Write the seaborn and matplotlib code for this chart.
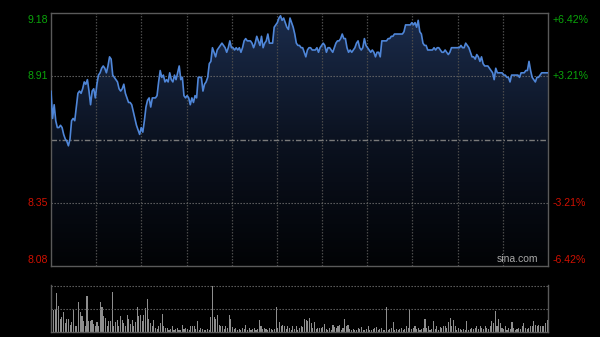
import numpy as np
import pandas as pd
import matplotlib
matplotlib.use("Agg")
import matplotlib.pyplot as plt
import seaborn as sns
from matplotlib.colors import LinearSegmentedColormap

# ---------------- data ----------------
prev_close = 8.627
left_labels = ["9.18", "8.91", "8.35", "8.08"]
right_labels = ["+6.42%", "+3.21%", "-3.21%", "-6.42%"]
label_pcts = [0.0642, 0.0321, -0.0321, -0.0642]

prices = [
    8.84, 8.72, 8.78, 8.71, 8.68, 8.68, 8.69, 8.68, 8.65, 8.63, 8.62, 8.60, 8.63, 8.71, 8.72, 8.71, 8.77, 8.83, 8.84, 8.83,
    8.85, 8.88, 8.87, 8.89, 8.84, 8.78, 8.84, 8.85, 8.81, 8.87, 8.91, 8.92, 8.94, 8.95, 8.94, 8.92, 8.95, 8.99, 8.98, 8.91,
    8.90, 8.89, 8.88, 8.85, 8.84, 8.85, 8.87, 8.83, 8.81, 8.79, 8.79, 8.78, 8.75, 8.72, 8.69, 8.67, 8.65, 8.68, 8.66, 8.71, 8.77,
    8.80, 8.81, 8.77, 8.81, 8.81, 8.81, 8.82, 8.88, 8.93, 8.90, 8.91, 8.88, 8.89, 8.88, 8.92, 8.89, 8.88, 8.91, 8.89, 8.92,
    8.95, 8.89, 8.90, 8.82, 8.81, 8.82, 8.81, 8.78, 8.81, 8.79, 8.82, 8.81, 8.90, 8.90, 8.90, 8.84, 8.87, 8.88, 8.90, 8.96,
    8.97, 9.03, 9.01, 8.99, 9.02, 9.03, 9.04, 9.05, 9.04, 9.03, 9.01, 9.03, 9.06, 9.03, 9.03, 9.02, 9.03, 9.02, 9.03, 9.01,
    9.03, 9.06, 9.07,
    9.06, 9.06, 9.06, 9.05, 9.03, 9.05, 9.08, 9.06, 9.04, 9.08, 9.03, 9.05, 9.06, 9.09, 9.05, 9.05, 9.05, 9.12, 9.13, 9.14,
    9.16, 9.17, 9.15, 9.16, 9.14, 9.12, 9.11, 9.16, 9.14, 9.12, 9.09, 9.05, 9.04, 9.04, 9.03, 9.03, 9.01, 8.99, 9.02, 9.03,
    9.03, 9.02, 9.02, 9.02, 9.03, 9.01, 9.03, 9.04, 9.05, 9.04, 9.01, 9.03, 9.03, 9.02, 9.01, 9.03, 9.05, 9.06, 9.06, 9.07,
    9.09, 9.07,
    9.07, 9.03, 9.01, 9.02, 9.01, 9.02, 9.03, 9.05, 9.06, 9.03, 9.02, 9.03, 9.07, 9.04, 9.03, 9.02, 9.01, 9.02, 9.01, 8.99,
    9.01, 9.01, 8.99, 9.06, 9.06, 9.06, 9.06, 9.07, 9.07, 9.08, 9.08, 9.09, 9.09, 9.09, 9.09, 9.09, 9.09, 9.10, 9.13, 9.13,
    9.13, 9.13, 9.14, 9.13, 9.14, 9.12, 9.15, 9.10, 9.09, 9.05, 9.04, 9.04, 9.02, 9.02, 9.02, 9.02, 9.03, 9.02, 9.03, 9.03,
    9.02, 9.01, 9.01, 9.02, 9.01,
    9.00, 9.01, 9.03, 9.03, 9.03, 9.03, 9.03, 9.03, 9.04, 9.03, 9.03, 9.05, 9.04, 9.03, 9.01, 8.99, 8.99, 8.98, 9.00, 8.99,
    8.97, 8.99, 8.96, 8.95, 8.95, 8.95, 8.94, 8.93, 8.92, 8.89, 8.94, 8.92, 8.92, 8.92, 8.92, 8.91, 8.91, 8.90, 8.90, 8.88,
    8.91, 8.91, 8.91, 8.91, 8.91, 8.90, 8.92, 8.92, 8.92, 8.93, 8.93, 8.97, 8.93, 8.90, 8.89, 8.88, 8.90, 8.90, 8.91, 8.92,
    8.92, 8.92, 8.92, 8.92,
]

volumes = [
    135, 65, 65, 117, 79, 39, 45, 61, 27, 39, 39, 22, 29, 67, 19, 19, 90, 59, 47, 32,
    17, 109, 32, 32, 37, 25, 19, 29, 19, 92, 77, 49, 42, 19, 32, 32, 122, 17, 29, 37,
    17, 49, 35, 27, 17, 52, 39, 25, 37, 17, 29, 77, 49, 52, 32, 52, 72, 99, 39, 27,
    17, 35, 12, 9, 19, 27, 54, 17, 12, 12, 7, 9, 17, 7, 9, 12, 7, 7, 22, 9,
    12, 9, 7, 19, 17, 17, 9, 32, 7, 12, 9, 7, 7, 9, 7, 45, 139, 45, 39, 52,
    22, 17, 19, 9, 17, 12, 51, 39, 15, 9, 12, 7, 9, 7, 12, 9, 22, 7, 12, 7,
    9, 12, 7, 9, 37, 17, 9, 12, 9, 7, 12, 9, 7, 9, 75, 12, 29, 17, 22, 17,
    9, 17, 12, 7, 17, 9, 17, 7,
    12, 17, 15, 39, 37, 32, 42, 27, 12, 29, 9, 12, 12, 12, 15, 25, 9, 7, 12, 7,
    22, 15, 12, 17, 22, 7, 12, 39, 17, 22, 9, 7, 9, 7, 7, 12, 9, 14, 7, 7,
    9, 17, 7, 7, 9, 12, 14, 7, 9, 12, 7, 7, 75, 7, 9, 12, 29, 7, 9, 7,
    9, 12, 7, 9, 19, 12, 65, 9, 12, 17, 9, 12, 7, 9, 12, 39, 12, 17, 7, 9,
    34, 9, 17, 7, 15, 12, 17, 19, 12, 29, 42, 17, 35, 19, 7, 12, 9, 7, 9, 7,
    32, 7, 9, 12, 9, 12, 17, 9, 17, 12, 9, 17, 12, 9, 19, 32, 27, 62, 17, 39,
    27, 12, 9, 17, 7, 12, 9, 29, 12, 7, 9, 12, 9, 17, 27, 12, 9, 12, 19, 17,
    32, 22, 19, 22, 17, 19, 17, 27, 37,
]

# ---------------- style ----------------
sns.set_theme(style="dark")
plt.rcParams["font.family"] = ["Liberation Sans", "DejaVu Sans"]
plt.rcParams["axes.facecolor"] = "black"
plt.rcParams["figure.facecolor"] = "black"

GREEN = "#0aa50a"
RED = "#d01000"
BORDER = "#5a5a5a"
LINE = "#4f86d8"

fig = plt.figure(figsize=(6.0, 3.37), dpi=100, facecolor="black")
ax = fig.add_axes([51 / 600, 1 - 266 / 337, 497 / 600, (266 - 13.3) / 337])
axv = fig.add_axes([51 / 600, 1 - 332 / 337, 497 / 600, (332 - 285.3) / 337])

# ---------------- price panel ----------------
df = pd.DataFrame({"t": np.arange(len(prices)), "price": prices})
n = len(prices)
lo = prev_close * (1 - 0.0642)
hi = prev_close * (1 + 0.0642)

ax.set_facecolor("black")
ax.set_xlim(0, n - 1)
ax.set_ylim(lo, hi)

cmap = LinearSegmentedColormap.from_list("g", ["#020305", "#0b1220", "#1b2c4c"])
grad = np.linspace(0, 1, 256).reshape(-1, 1)
im = ax.imshow(grad, extent=[0, n - 1, lo, hi], origin="lower", aspect="auto",
               cmap=cmap, zorder=1, interpolation="bilinear")
poly = ax.fill_between(df["t"], df["price"], lo, color="none", lw=0)
im.set_clip_path(poly.get_paths()[0], transform=ax.transData)
ax.set_xlim(0, n - 1)
ax.set_ylim(lo, hi)

# grid
for k in range(1, 11):
    ax.axvline((n - 1) * k / 11, color="#4a4a4a", lw=0.9, ls=(0, (1.2, 1.2)), zorder=2)
for p in (0.0321, -0.0321):
    ax.axhline(prev_close * (1 + p), color="#6a6a6a", lw=0.8, ls=(0, (1.2, 1.5)), zorder=2)
ax.axhline(prev_close, color="#7a7a7a", lw=1.0, ls=(0, (4, 1.5, 1, 1.5)), zorder=2)

sns.lineplot(data=df, x="t", y="price", ax=ax, color=LINE, lw=1.2, zorder=3)

ax.set_xticks([])
ax.set_yticks([])
ax.set_xlabel("")
ax.set_ylabel("")
for s in ax.spines.values():
    s.set_visible(True)
    s.set_color(BORDER)
    s.set_linewidth(1.0)

# axis labels
offsets = [(-4.5, "center"), (0, "center"), (0, "center"), (4.5, "center")]
for lab, rl, pct, (dy, va) in zip(left_labels, right_labels, label_pcts, offsets):
    col = GREEN if pct > 0 else RED
    val = prev_close * (1 + pct)
    ax.annotate(lab, xy=(0, val), xycoords=("axes fraction", "data"),
                xytext=(-2.2, dy), textcoords="offset points",
                ha="right", va=va, fontsize=7.6, color=col)
    ax.annotate(rl, xy=(1, val), xycoords=("axes fraction", "data"),
                xytext=(3.5, dy), textcoords="offset points",
                ha="left", va=va, fontsize=7.6, color=col)

ax.text(0.98, 0.008, "sina.com", transform=ax.transAxes, ha="right", va="bottom",
        fontsize=7.5, color="#a8a8a8", zorder=4)

# ---------------- volume panel ----------------
dv = pd.DataFrame({"t": np.arange(len(volumes)), "vol": volumes})
axv.set_facecolor("black")
sns.barplot(data=dv, x="t", y="vol", ax=axv, native_scale=True, color="#8e8e8e",
            saturation=1, width=0.65, linewidth=0, errorbar=None)
vmax = max(volumes) * 1.015
axv.set_ylim(0, vmax)
axv.set_xlim(-0.5, len(volumes) - 0.5)
axv.axhline(vmax * 0.5, color="#6a6a6a", lw=0.8, ls=(0, (1.2, 1.5)))
axv.axhline(vmax * 0.995, color="#6a6a6a", lw=0.8, ls=(0, (1.2, 1.5)))
axv.set_xticks([])
axv.set_yticks([])
axv.set_xlabel("")
axv.set_ylabel("")
axv.spines["top"].set_visible(False)
for side in ("left", "right", "bottom"):
    axv.spines[side].set_visible(True)
    axv.spines[side].set_color(BORDER)
    axv.spines[side].set_linewidth(1.0)

fig.savefig("out.png", dpi=100, facecolor="black")
